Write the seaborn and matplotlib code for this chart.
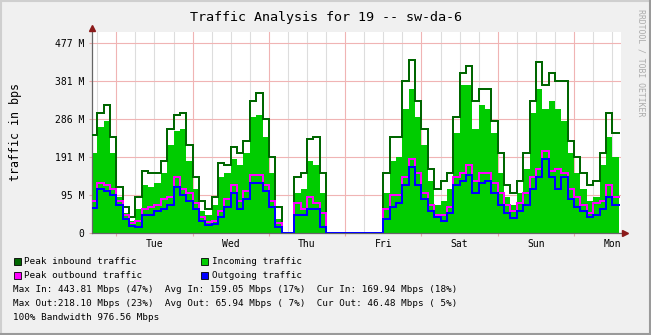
import numpy as np
import pandas as pd
import matplotlib
matplotlib.use("Agg")
import matplotlib.pyplot as plt
from matplotlib.ticker import MultipleLocator, FixedLocator, FixedFormatter, NullFormatter
from matplotlib.lines import Line2D
from matplotlib.patches import Rectangle
import seaborn as sns

# ---------------- data (hours since Tuesday 00:00, 2-hour bins, values in M bps) -------------
bin_start = np.arange(-8, 158, 2)

peak_in = [245, 300, 320, 240, 115, 65, 40, 90, 155, 150, 150, 180, 260, 295, 300, 220,
           140, 80, 60, 90, 175, 170, 215, 200, 230, 330, 350, 285, 190, 65,
           0, 0,
           140, 150, 235, 240, 150,
           0, 0, 0, 0, 0, 0, 0, 0, 0,
           150, 240, 240, 380, 435, 330, 260, 160, 110, 130, 150, 290, 400, 420, 330, 360, 360,
           280, 200, 120, 100, 130, 200, 330, 430, 370, 400, 380, 380, 230, 190, 150, 120, 130,
           200, 300, 250]

incoming = [200, 265, 280, 200, 90, 50, 30, 60, 120, 115, 125, 150, 220, 255, 260, 180,
            110, 55, 45, 70, 140, 150, 185, 170, 200, 290, 295, 240, 150, 35,
            0, 0,
            100, 110, 180, 170, 100,
            0, 0, 0, 0, 0, 0, 0, 0, 0,
            100, 180, 190, 310, 360, 290, 220, 130, 70, 80, 110, 250, 370, 370, 260, 320, 310,
            250, 150, 90, 70, 100, 160, 300, 360, 310, 330, 310, 280, 200, 150, 110, 80, 90,
            170, 240, 190]

peak_out = [80, 125, 120, 110, 80, 45, 25, 30, 60, 65, 70, 85, 90, 140, 110, 100,
            75, 40, 28, 30, 55, 85, 120, 80, 105, 145, 145, 120, 80, 25,
            0, 0,
            75, 60, 90, 75, 50,
            0, 0, 0, 0, 0, 0, 0, 0, 0,
            60, 95, 95, 140, 185, 150, 100, 70, 45, 45, 65, 140, 150, 170, 130, 150, 150,
            125, 100, 70, 55, 75, 100, 140, 160, 205, 155, 160, 150, 110, 90, 70, 50, 75,
            80, 120, 90]

outgoing = [62, 110, 105, 95, 70, 35, 18, 15, 45, 45, 55, 60, 70, 115, 95, 80,
            60, 30, 20, 22, 40, 65, 100, 60, 85, 125, 125, 105, 65, 15,
            0, 0,
            45, 45, 60, 60, 15,
            0, 0, 0, 0, 0, 0, 0, 0, 0,
            35, 65, 75, 120, 165, 120, 85, 55, 40, 30, 50, 120, 130, 145, 100, 125, 130,
            100, 70, 50, 38, 55, 70, 110, 140, 185, 140, 110, 140, 85, 65, 55, 40, 45,
            60, 90, 70]

day_labels = ["Tue", "Wed", "Thu", "Fri", "Sat", "Sun", "Mon"]
ytick_values = [0, 95.37, 190.73, 286.10, 381.47, 476.84]
ytick_labels = ["0", "95 M", "191 M", "286 M", "381 M", "477 M"]

title = "Traffic Analysis for 19 -- sw-da-6"
ylabel = "traffic in bps"
watermark = "RRDTOOL / TOBI OETIKER"
legend_labels = ["Peak inbound traffic", "Incoming traffic",
                 "Peak outbound traffic", "Outgoing traffic"]
legend_colors = ["#006600", "#00CC00", "#FF00FF", "#0000FF"]
stats_lines = [
    "Max In: 443.81 Mbps (47%)  Avg In: 159.05 Mbps (17%)  Cur In: 169.94 Mbps (18%)",
    "Max Out:218.10 Mbps (23%)  Avg Out: 65.94 Mbps ( 7%)  Cur Out: 46.48 Mbps ( 5%)",
    "100% Bandwidth 976.56 Mbps",
]

# ---------------- build step data ----------------
edges = np.append(bin_start, bin_start[-1] + 2)
def stepped(v):
    return np.append(np.asarray(v, float), v[-1])

df = pd.DataFrame({
    "t": edges,
    "peak_in": stepped(peak_in),
    "incoming": stepped(incoming),
    "peak_out": stepped(peak_out),
    "outgoing": stepped(outgoing),
})

# ---------------- figure ----------------
W, H = 651, 335
plt.rcParams["font.family"] = ["DejaVu Sans Mono", "DejaVu Sans"]
fig = plt.figure(figsize=(W / 100, H / 100), dpi=100)
fig.patch.set_facecolor("#F0F0F0")

def fx(x): return x / W
def fy(y): return 1 - y / H

# border
fig.add_artist(Line2D([0, 1], [fy(0.5), fy(0.5)], transform=fig.transFigure, color="#CFCFCF", lw=1.5))
fig.add_artist(Line2D([fx(0.5), fx(0.5)], [0, 1], transform=fig.transFigure, color="#CFCFCF", lw=1.5))
fig.add_artist(Line2D([0, 1], [fy(334), fy(334)], transform=fig.transFigure, color="#9A9A9A", lw=1.5))
fig.add_artist(Line2D([fx(650), fx(650)], [0, 1], transform=fig.transFigure, color="#9A9A9A", lw=1.5))

ax = fig.add_axes([fx(92), fy(233), (621 - 92) / W, (233 - 32) / H])
ax.set_facecolor("white")
ax.set_xlim(-7.64, 158.76)
ax.set_ylim(0, 504)

ax.fill_between(df["t"], df["incoming"], step="post", color="#00CC00", lw=0, zorder=1)
for col, colr, z in [("peak_in", "#006600", 3), ("peak_out", "#FF00FF", 4),
                     ("outgoing", "#0000FF", 5)]:
    sns.lineplot(data=df, x="t", y=col, ax=ax, color=colr, lw=1.1,
                 drawstyle="steps-post", estimator=None, zorder=z, antialiased=False)
ax.set_xlabel("")
ax.set_ylabel("")

# grid
ax.set_axisbelow(True)
ax.xaxis.set_major_locator(MultipleLocator(24))
ax.xaxis.set_minor_locator(MultipleLocator(6))
ax.xaxis.set_major_formatter(NullFormatter())
ax.yaxis.set_major_locator(FixedLocator(ytick_values))
ax.yaxis.set_major_formatter(FixedFormatter(ytick_labels))
ax.grid(which="major", axis="both", color="#F0B4B4", lw=0.8)
ax.grid(which="minor", axis="x", color="#DDDDDD", lw=0.8)
ax.tick_params(axis="x", which="major", length=2.5, width=0.8, color="#E8A8A8")
ax.tick_params(axis="x", which="minor", length=0)
ax.tick_params(axis="y", which="major", length=2.5, width=0.8, color="#E8A8A8",
               labelsize=7, labelcolor="black", pad=3.2)
for s in ax.spines.values():
    s.set_visible(False)

# day labels centred at noon
sec = ax.secondary_xaxis("bottom")
sec.set_xticks(np.arange(len(day_labels)) * 24 + 12, labels=day_labels)
sec.tick_params(length=0, labelsize=7, pad=4)
sec.spines["bottom"].set_visible(False)

# axis lines with arrows
ax.plot([0, 1.006], [0, 0], transform=ax.transAxes, color="#666666", lw=0.9,
        clip_on=False, zorder=2)
ax.plot([0, 0], [0, 1.01], transform=ax.transAxes, color="#666666", lw=0.9,
        clip_on=False, zorder=2)
ax.plot([1.0085], [0], marker=">", ms=4, color="#8B1A1A", transform=ax.transAxes,
        clip_on=False, zorder=6, mec="#8B1A1A")
ax.plot([0], [1.019], marker="^", ms=4, color="#8B1A1A", transform=ax.transAxes,
        clip_on=False, zorder=6, mec="#8B1A1A")

# texts
fig.text(0.5, fy(17), title, ha="center", va="center", fontsize=9.6, color="black")
fig.text(fx(16), fy(132), ylabel, rotation=90, ha="center", va="center",
         fontsize=8.4, color="black")
fig.text(fx(641), fy(62.5), watermark, rotation=270, ha="center", va="center",
         fontsize=5.9, color="#ABABAB")

# legend
rows = [261, 275]
cols = [(13.5, 24.3), (200.5, 211.7)]
for i, (lab, col) in enumerate(zip(legend_labels, legend_colors)):
    r = rows[i // 2]
    sx, tx = cols[i % 2]
    fig.add_artist(Rectangle((fx(sx), fy(r + 3.5)), 7 / W, 7 / H, transform=fig.transFigure,
                             fc=col, ec="black", lw=0.6))
    fig.text(fx(tx), fy(r), lab, ha="left", va="center", fontsize=6.7, color="black")

for j, line in enumerate(stats_lines):
    fig.text(fx(13.3), fy(289 + 14 * j), line, ha="left", va="center",
             fontsize=6.7, color="black")

fig.savefig("out.png", dpi=100, facecolor=fig.get_facecolor())
